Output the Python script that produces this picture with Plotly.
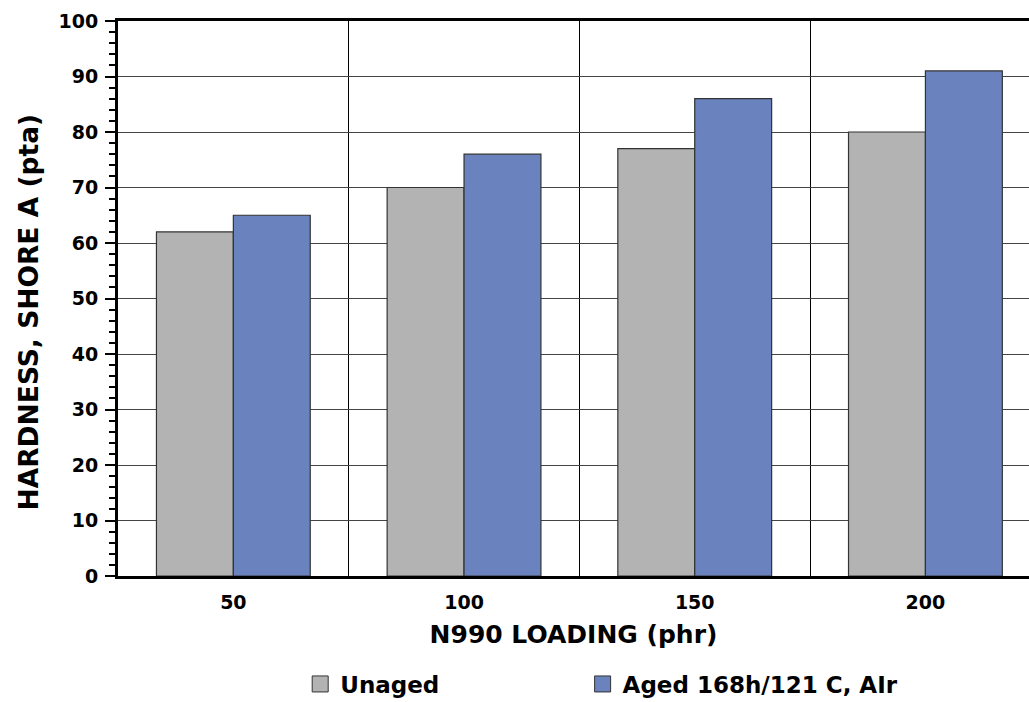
import plotly.graph_objects as go

categories = ["50", "100", "150", "200"]
unaged = [62, 70, 77, 80]
aged = [65, 76, 86, 91]
series_names = ["Unaged", "Aged 168h/121 C, AIr"]
series_colors = ["#b3b3b3", "#6a82bd"]
y_ticks = [0, 10, 20, 30, 40, 50, 60, 70, 80, 90, 100]
x_title = "N990 LOADING (phr)"
y_title = "HARDNESS, SHORE A (pta)"

FONT = "DejaVu Sans"
EDGE = "#333333"

fig = go.Figure()
for vals, name, col in zip([unaged, aged], series_names, series_colors):
    fig.add_trace(go.Bar(x=categories, y=vals, name=name, showlegend=False,
                         marker=dict(color=col, line=dict(color=EDGE, width=1.2))))
# legend-only entries with larger square swatches, one legend each
for name, col, lg in zip(series_names, series_colors, ["legend", "legend2"]):
    fig.add_trace(go.Scatter(x=[None], y=[None], mode="markers", name=name, legend=lg,
                             marker=dict(symbol="square", size=16, color=col,
                                         line=dict(color=EDGE, width=1))))

legend_font = dict(family=FONT, size=23, weight="bold")
fig.update_layout(
    width=1029, height=702,
    margin=dict(l=118, r=0, t=21, b=126, autoexpand=False),
    plot_bgcolor="white", paper_bgcolor="white",
    barmode="group", bargap=1/3, bargroupgap=0,
    font=dict(family=FONT, color="black"),
    showlegend=True,
    legend=dict(orientation="h", x=0.2, xanchor="left", y=-0.1946, yanchor="middle",
                font=legend_font, bgcolor="rgba(0,0,0,0)"),
    legend2=dict(orientation="h", x=0.51, xanchor="left", y=-0.1946, yanchor="middle",
                 font=legend_font, bgcolor="rgba(0,0,0,0)"),
    annotations=[dict(text=y_title, textangle=-90, xref="paper", yref="paper",
                      x=-0.0988, y=0.4766, xanchor="center", yanchor="middle",
                      showarrow=False, font=dict(family=FONT, size=26.5, weight="bold"))],
)

fig.update_xaxes(
    type="category", range=[-0.5, 3.449],
    tickson="boundaries", showgrid=True, gridcolor="black", gridwidth=1,
    ticks="", ticklabelstandoff=7,
    showline=True, linecolor="black", linewidth=3, mirror=True,
    tickfont=dict(family=FONT, size=19, weight="bold"),
    title=dict(text=x_title, font=dict(family=FONT, size=25, weight="bold"), standoff=14),
)
fig.update_yaxes(
    range=[0, 100], tickvals=y_ticks,
    showgrid=True, gridcolor="#444444", gridwidth=1.3, zeroline=False,
    ticks="outside", ticklen=10, tickwidth=2, tickcolor="black", ticklabelstandoff=3,
    minor=dict(dtick=2, ticks="outside", ticklen=6, tickwidth=1.5, tickcolor="black", showgrid=False),
    showline=True, linecolor="black", linewidth=3, mirror=False,
    tickfont=dict(family=FONT, size=19, weight="bold"),
)

fig.write_html("out.html", config={"displayModeBar": False},
               post_script="document.body.style.margin='0';document.body.style.overflow='hidden';")
